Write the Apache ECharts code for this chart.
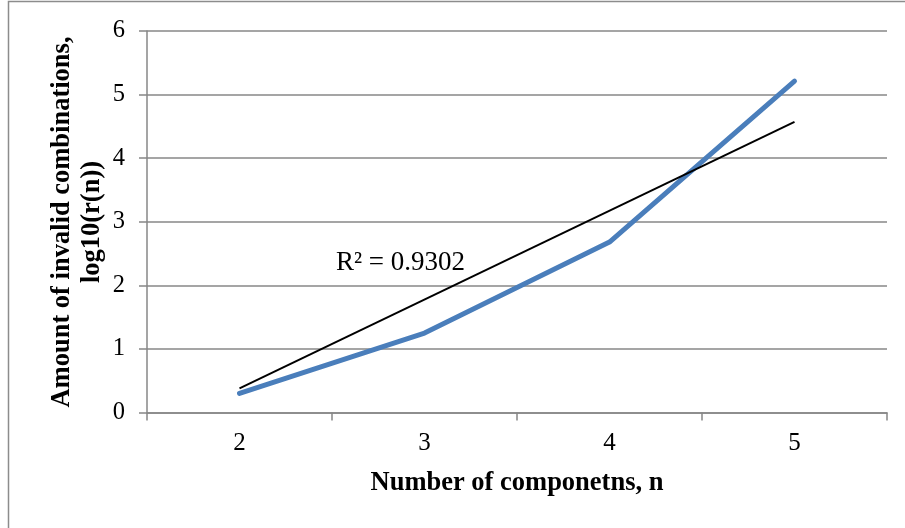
<!DOCTYPE html>
<html>
<head>
<meta charset="utf-8">
<script src="https://cdn.jsdelivr.net/npm/echarts@6/dist/echarts.min.js"></script>
<style>
  html, body { margin: 0; padding: 0; background: #fff; }
  #chart { width: 905px; height: 528px; }
</style>
</head>
<body>
<div id="chart"></div>
<script>
// Number of components n and log10 of invalid combinations
const categories = ['2', '3', '4', '5'];
const logInvalid = [0.30, 1.25, 2.68, 5.21];
// Linear trendline, endpoint values at n = 2 and n = 5
const trendValues = [0.38, null, null, 4.57];
const trendLabel = 'R\u00B2 = 0.9302';
const yTicks = { min: 0, max: 6, interval: 1 };
const xTitle = 'Number of componetns, n';
const yTitle = 'Amount of invalid combinations,\nlog10(r(n))';

const serif = '"Liberation Serif", "Times New Roman", serif';
const gray = '#878787';

const chart = echarts.init(document.getElementById('chart'), null, { renderer: 'canvas' });
chart.setOption({
  animation: false,
  backgroundColor: '#ffffff',
  grid: { left: 147, right: 18, top: 31, bottom: 115.5, containLabel: false },
  xAxis: {
    type: 'category',
    data: categories,
    boundaryGap: true,
    axisLine: { lineStyle: { color: gray, width: 1.5 } },
    axisTick: { show: true, length: 8, alignWithLabel: false, lineStyle: { color: gray, width: 1.5 } },
    axisLabel: { fontFamily: serif, fontSize: 25, color: '#000', margin: 18 },
    splitLine: { show: false }
  },
  yAxis: {
    type: 'value',
    min: yTicks.min,
    max: yTicks.max,
    interval: yTicks.interval,
    axisLine: { show: true, lineStyle: { color: gray, width: 1.5 } },
    axisTick: { show: true, length: 8, lineStyle: { color: gray, width: 1.5 } },
    axisLabel: { fontFamily: serif, fontSize: 24.5, color: '#000', margin: 22 },
    splitLine: { show: true, lineStyle: { color: gray, width: 1.5 } }
  },
  series: [
    {
      type: 'line',
      data: logInvalid,
      symbol: 'none',
      lineStyle: { color: '#4a7ebb', width: 5, cap: 'round', join: 'round' },
      z: 3
    },
    {
      type: 'line',
      data: trendValues,
      connectNulls: true,
      symbol: 'none',
      lineStyle: { color: '#000000', width: 2 },
      z: 4
    }
  ],
  graphic: [
    {
      type: 'rect',
      shape: { x: 8.5, y: 1.5, width: 1200, height: 1200 },
      style: { fill: 'none', stroke: '#8c8c8c', lineWidth: 1.5 },
      silent: true
    },
    {
      type: 'text',
      left: 336,
      top: 249,
      style: { text: trendLabel, fontFamily: serif, fontSize: 27, fill: '#000' }
    },
    {
      // x axis title
      type: 'text',
      x: 517,
      y: 483,
      style: {
        text: xTitle, fontFamily: serif, fontWeight: 'bold', fontSize: 26.5,
        fill: '#000', align: 'center', verticalAlign: 'middle'
      }
    },
    {
      // y axis title, two lines reading bottom to top
      type: 'text',
      x: 77,
      y: 222,
      rotation: Math.PI / 2,
      style: {
        text: yTitle, fontFamily: serif, fontWeight: 'bold', fontSize: 26.5,
        lineHeight: 30, fill: '#000', align: 'center', verticalAlign: 'middle'
      }
    }
  ]
});
</script>
</body>
</html>
